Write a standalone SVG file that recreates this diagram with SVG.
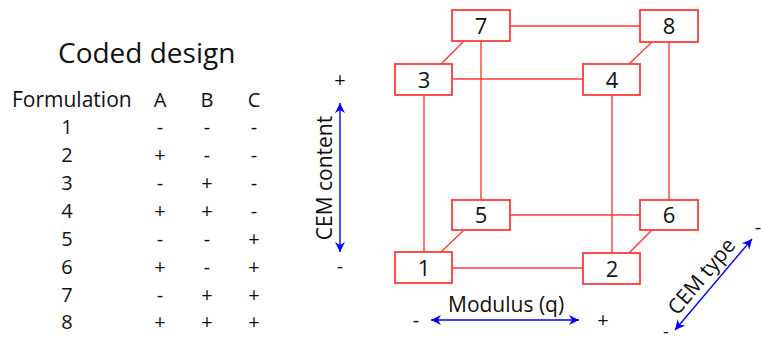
<svg xmlns="http://www.w3.org/2000/svg" width="761" height="343" viewBox="0 0 761 343">
  <defs>
    <marker id="ah" viewBox="0 0 10 10" refX="10" refY="5" markerWidth="10" markerHeight="10" markerUnits="userSpaceOnUse" orient="auto-start-reverse">
      <path d="M0,0 L10,5 L0,10 L3,5 Z" fill="#0000ff"/>
    </marker>
    <style>
      text { font-family: "Open Sans", "Noto Sans", "DejaVu Sans", sans-serif; fill: #111; }
      .title { font-size: 28px; }
      .tb { font-size: 20px; text-anchor: middle; }
      .hd { font-size: 21px; }
      .node rect { fill: #fff; stroke: #ff3b3b; stroke-width: 1.8; }
      .node text { font-size: 22px; text-anchor: middle; }
      .edge { stroke: #ff3b3b; stroke-width: 1.4; fill: none; }
      .axis { stroke: #0000ff; stroke-width: 1.4; fill: none; marker-start: url(#ah); marker-end: url(#ah); }
      .lbl { font-size: 21px; }
      .sign { font-size: 20px; text-anchor: middle; }
    </style>
  </defs>

  <!-- coded design table -->
  <g id="table">
    <text class="title" x="58" y="63">Coded design</text>
    <text class="hd" x="12" y="107">Formulation</text>
    <text class="tb" x="160" y="107">A</text>
    <text class="tb" x="207" y="107">B</text>
    <text class="tb" x="254" y="107">C</text>
    <g>
      <text class="tb" x="67" y="134">1</text><text class="tb" x="160" y="134">-</text><text class="tb" x="207" y="134">-</text><text class="tb" x="254" y="134">-</text>
      <text class="tb" x="67" y="162">2</text><text class="tb" x="160" y="162">+</text><text class="tb" x="207" y="162">-</text><text class="tb" x="254" y="162">-</text>
      <text class="tb" x="67" y="190">3</text><text class="tb" x="160" y="190">-</text><text class="tb" x="207" y="190">+</text><text class="tb" x="254" y="190">-</text>
      <text class="tb" x="67" y="218">4</text><text class="tb" x="160" y="218">+</text><text class="tb" x="207" y="218">+</text><text class="tb" x="254" y="218">-</text>
      <text class="tb" x="67" y="246">5</text><text class="tb" x="160" y="246">-</text><text class="tb" x="207" y="246">-</text><text class="tb" x="254" y="246">+</text>
      <text class="tb" x="67" y="274">6</text><text class="tb" x="160" y="274">+</text><text class="tb" x="207" y="274">-</text><text class="tb" x="254" y="274">+</text>
      <text class="tb" x="67" y="302">7</text><text class="tb" x="160" y="302">-</text><text class="tb" x="207" y="302">+</text><text class="tb" x="254" y="302">+</text>
      <text class="tb" x="67" y="329">8</text><text class="tb" x="160" y="329">+</text><text class="tb" x="207" y="329">+</text><text class="tb" x="254" y="329">+</text>
    </g>
  </g>

  <!-- cube edges -->
  <g id="connectors">
    <line class="edge" x1="510" y1="26" x2="640" y2="26"/>
    <line class="edge" x1="452" y1="79" x2="583" y2="79"/>
    <line class="edge" x1="510" y1="215" x2="640" y2="215"/>
    <line class="edge" x1="452" y1="268" x2="583" y2="268"/>
    <line class="edge" x1="424" y1="95" x2="424" y2="252"/>
    <line class="edge" x1="481" y1="41" x2="481" y2="200"/>
    <line class="edge" x1="612" y1="95" x2="612" y2="253"/>
    <line class="edge" x1="669" y1="42" x2="669" y2="200"/>
    <line class="edge" x1="464" y1="41" x2="441" y2="64"/>
    <line class="edge" x1="652" y1="42" x2="629" y2="64"/>
    <line class="edge" x1="464" y1="230" x2="441" y2="252"/>
    <line class="edge" x1="652" y1="230" x2="629" y2="253"/>
  </g>

  <!-- cube vertices -->
  <g id="n7" class="node"><rect x="452" y="10" width="58" height="31"/><text x="481" y="34">7</text></g>
  <g id="n8" class="node"><rect x="640" y="10" width="58" height="32"/><text x="669" y="34">8</text></g>
  <g id="n3" class="node"><rect x="395" y="64" width="57" height="31"/><text x="424" y="88">3</text></g>
  <g id="n4" class="node"><rect x="583" y="64" width="57" height="31"/><text x="612" y="88">4</text></g>
  <g id="n5" class="node"><rect x="452" y="200" width="58" height="30"/><text x="481" y="223">5</text></g>
  <g id="n6" class="node"><rect x="640" y="200" width="58" height="30"/><text x="669" y="223">6</text></g>
  <g id="n1" class="node"><rect x="395" y="252" width="57" height="31"/><text x="424" y="276">1</text></g>
  <g id="n2" class="node"><rect x="583" y="253" width="57" height="31"/><text x="612" y="277">2</text></g>

  <!-- factor axes -->
  <g id="axes">
    <line class="axis" x1="340" y1="103" x2="340" y2="252"/>
    <text class="sign" x="340" y="87">+</text>
    <text class="sign" x="340" y="273">-</text>
    <text class="lbl" text-anchor="middle" transform="translate(332,178) rotate(-90)">CEM content</text>

    <line class="axis" x1="431" y1="320" x2="579" y2="320"/>
    <text class="lbl" x="448" y="312">Modulus (q)</text>
    <text class="sign" x="416" y="327">-</text>
    <text class="sign" x="603" y="327">+</text>

    <line class="axis" x1="675" y1="330" x2="752" y2="239"/>
    <text class="lbl" text-anchor="middle" transform="translate(707,281) rotate(-50)">CEM type</text>
    <text class="sign" x="758" y="234">-</text>
    <text class="sign" x="666" y="338" style="font-size:18px">-</text>
  </g>
</svg>
